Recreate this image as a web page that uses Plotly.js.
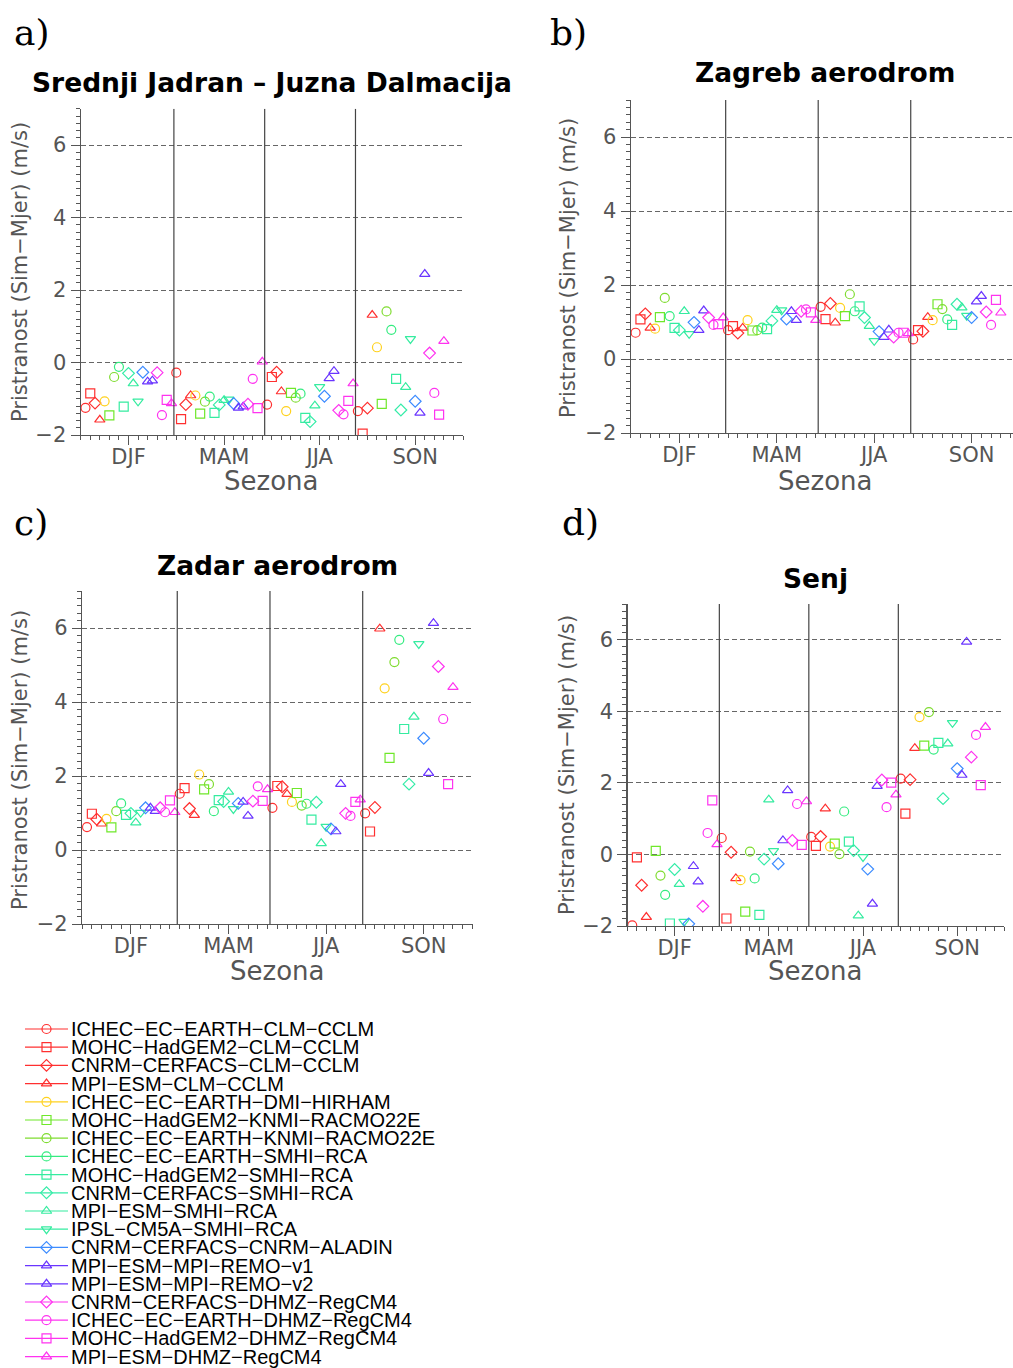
<!DOCTYPE html>
<html><head><meta charset="utf-8">
<script src="https://cdn.plot.ly/plotly-3.0.1.min.js"></script>
<style>body{margin:0;padding:0;background:#fff}</style>
</head><body><div id="chart" style="width:1013px;height:1368px"></div>
<script>
// ---------- data ----------
const models = ["ICHEC−EC−EARTH−CLM−CCLM","MOHC−HadGEM2−CLM−CCLM","CNRM−CERFACS−CLM−CCLM","MPI−ESM−CLM−CCLM",
  "ICHEC−EC−EARTH−DMI−HIRHAM","MOHC−HadGEM2−KNMI−RACMO22E","ICHEC−EC−EARTH−KNMI−RACMO22E","ICHEC−EC−EARTH−SMHI−RCA",
  "MOHC−HadGEM2−SMHI−RCA","CNRM−CERFACS−SMHI−RCA","MPI−ESM−SMHI−RCA","IPSL−CM5A−SMHI−RCA","CNRM−CERFACS−CNRM−ALADIN",
  "MPI−ESM−MPI−REMO−v1","MPI−ESM−MPI−REMO−v2","CNRM−CERFACS−DHMZ−RegCM4","ICHEC−EC−EARTH−DHMZ−RegCM4",
  "MOHC−HadGEM2−DHMZ−RegCM4","MPI−ESM−DHMZ−RegCM4"];
const seasons = ["DJF","MAM","JJA","SON"];
const panelTitles = ["Srednji Jadran – Juzna Dalmacija","Zagreb aerodrom","Zadar aerodrom","Senj"];
const panelLetters = ["a)","b)","c)","d)"];

// a) Srednji Jadran - Juzna Dalmacija
const jadranDJF = [-1.25,-0.85,-1.12,-1.58,-1.07,-1.46,-0.40,-0.12,-1.22,-0.30,-0.58,-1.07,-0.27,-0.53,-0.50,-0.28,-1.45,-1.03,-1.13];
const jadranMAM = [-0.28,-1.56,-1.16,-0.91,-0.91,-1.41,-1.08,-0.94,-1.39,-1.17,-1.04,-1.02,-1.13,-1.25,-1.22,-1.15,-0.45,-1.26,0.02];
const jadranJJA = [-1.16,-0.40,-0.27,-0.80,-1.34,-0.84,-0.97,-0.86,-1.53,-1.63,-1.19,-0.67,-0.93,-0.44,-0.24,-1.32,-1.43,-1.06,-0.58];
const jadranSON = [-1.34,-1.96,-1.26,1.31,0.42,-1.14,1.41,0.90,-0.45,-1.31,-0.68,0.65,-1.07,-1.39,2.44,0.26,-0.84,-1.44,0.59];
// b) Zagreb aerodrom
const zagrebDJF = [0.71,1.07,1.22,0.84,0.82,1.13,1.65,1.16,0.84,0.78,1.29,0.68,0.99,0.78,1.31,1.12,0.92,0.94,1.12];
const zagrebMAM = [0.78,0.89,0.70,0.84,1.05,0.77,0.78,0.85,0.81,1.03,1.32,1.32,1.08,1.29,1.05,1.29,1.34,1.26,1.05];
const zagrebJJA = [1.41,1.08,1.50,0.98,1.38,1.16,1.75,1.29,1.42,1.12,0.89,0.49,0.74,0.59,0.79,0.59,0.71,0.71,0.69];
const zagrebSON = [0.53,0.78,0.75,1.13,1.05,1.48,1.35,1.07,0.92,1.48,1.39,1.17,1.12,1.55,1.70,1.27,0.92,1.60,1.25];
// c) Zadar aerodrom
const zadarDJF = [0.62,0.98,0.83,0.71,0.84,0.61,1.05,1.26,0.95,0.99,0.74,1.01,1.14,1.14,1.05,1.14,1.02,1.34,1.02];
const zadarMAM = [1.52,1.67,1.12,0.94,2.04,1.64,1.78,1.05,1.35,1.31,1.57,1.11,1.26,1.30,0.92,1.32,1.72,1.33,1.64];
const zadarJJA = [1.14,1.73,1.71,1.51,1.30,1.54,1.20,1.25,0.82,1.29,0.18,0.63,0.57,0.50,1.78,0.99,0.92,1.30,1.36];
const zadarSON = [0.99,0.50,1.15,5.98,4.37,2.49,5.08,5.68,3.27,1.78,3.60,5.57,3.02,2.08,6.13,4.96,3.54,1.78,4.40];
// d) Senj
const senjDJF = [-1.98,-0.08,-0.86,-1.75,null,0.10,-0.59,-1.13,-1.93,-0.42,-0.83,-1.88,-1.94,-0.33,-0.76,-1.45,0.60,1.51,0.28];
const senjMAM = [0.46,-1.79,0.06,-0.67,-0.72,-1.60,0.08,-0.67,-1.69,-0.13,1.53,0.10,-0.26,0.39,1.79,0.39,1.41,0.27,1.48];
const senjJJA = [0.49,0.24,0.50,1.28,0.22,0.30,0.01,1.20,0.36,0.11,-1.71,-0.07,-0.41,-1.38,1.91,2.08,1.32,2.01,1.67];
const senjSON = [2.12,1.14,2.09,2.97,3.84,3.04,3.98,2.93,3.12,1.56,3.10,3.68,2.40,2.22,5.94,2.72,3.34,1.94,3.56];

const panelData = [
  [jadranDJF, jadranMAM, jadranJJA, jadranSON],
  [zagrebDJF, zagrebMAM, zagrebJJA, zagrebSON],
  [zadarDJF, zadarMAM, zadarJJA, zadarSON],
  [senjDJF, senjMAM, senjJJA, senjSON]
];

// ---------- styles ----------
const symbols = ["circle-open","square-open","diamond-open","triangle-up-open","circle-open","square-open","circle-open",
  "circle-open","square-open","diamond-open","triangle-up-open","triangle-down-open","diamond-open","triangle-up-open",
  "triangle-up-open","diamond-open","circle-open","square-open","triangle-up-open"];
const colors = ["#ff3030","#ff3030","#ff3030","#ff3030","#ffd21f","#6fe82a","#7fdc30","#35ec80","#35eca0","#35eca8",
  "#35eca0","#35eca0","#3d8cff","#6a35ff","#6a35ff","#ff33f0","#ff33f0","#ff33f0","#ff33f0"];

const W = 1013, H = 1368;
const px = x => x / W, py = y => 1 - y / H;
const grey = "#555555";
const tickFont = {family: "DejaVu Sans", size: 21, color: "#555"};

// panel boxes in pixels: [x0, x1, yTop(7), yBottom(-2)], x range max
const boxes = [
  {x0: 80.7, x1: 463, yt: 108.75, yb: 435, xmax: 80},
  {x0: 630.7, x1: 1013, yt: 100, yb: 433, xmax: 78.5},
  {x0: 82.1, x1: 472.5, yt: 591, yb: 924, xmax: 80},
  {x0: 627.5, x1: 1004.3, yt: 604, yb: 926, xmax: 80}
];

const traces = [];
const layout = {
  width: W, height: H, margin: {l: 0, r: 0, t: 0, b: 0},
  paper_bgcolor: "#fff", plot_bgcolor: "#fff", showlegend: false,
  shapes: [], annotations: []
};

boxes.forEach((b, p) => {
  const k = p === 0 ? "" : String(p + 1);
  const xName = "xaxis" + k, yName = "yaxis" + k;
  const alias = {}; seasons.forEach((s, i) => alias[String(10 + 20 * i)] = s);
  layout[xName] = {
    domain: [px(b.x0), px(b.x1)], range: [0, b.xmax], anchor: "y" + k,
    tickmode: "linear", tick0: 10, dtick: 20, labelalias: alias,
    ticks: "outside", ticklen: 9, tickcolor: grey, tickwidth: 1, ticklabelstandoff: -6,
    showline: true, linecolor: grey, linewidth: 1.2, showgrid: false, zeroline: false,
    minor: {tickmode: "linear", tick0: 0, dtick: 2, ticks: "outside", ticklen: 4, tickcolor: grey, showgrid: false},
    tickfont: tickFont, fixedrange: true
  };
  layout[yName] = {
    domain: [py(b.yb), py(b.yt)], range: [-2, 7], anchor: "x" + k,
    tickmode: "linear", tick0: -2, dtick: 2,
    ticks: "outside", ticklen: 9, tickcolor: grey, tickwidth: 1,
    showline: true, linecolor: grey, linewidth: 1.2,
    showgrid: true, gridcolor: "#666", griddash: "5px,3px", gridwidth: 1, zeroline: false,
    minor: {tickmode: "linear", tick0: -2, dtick: 0.2, ticks: "outside", ticklen: 4, tickcolor: grey, showgrid: false},
    tickfont: tickFont, fixedrange: true
  };
  [19.5, 38.5, 57.5].forEach(v => layout.shapes.push({
    type: "line", xref: "x" + k, yref: "y" + k, x0: v, x1: v, y0: -2, y1: 7,
    line: {color: "#444", width: 1.2}
  }));
  models.forEach((m, i) => {
    traces.push({
      type: "scatter", mode: "markers", xaxis: "x" + k, yaxis: "y" + k, name: m,
      x: seasons.map((s, si) => si * models.length + i + 1),
      y: panelData[p].map(arr => arr[i]),
      marker: {symbol: symbols[i], size: 9, color: colors[i], line: {width: 1.2, color: colors[i]}},
      cliponaxis: true, hoverinfo: "skip"
    });
  });
});

// titles and labels
const titlePos = [[271.5, 83], [825, 73], [277, 565], [815, 578]];
const letterPos = [[12, 32], [548, 32], [12, 522], [560, 522]];
const ytitlePos = [[20, 272], [568, 268], [20, 760], [567, 765]];
const xtitlePos = [[271, 481], [825, 481], [277, 971], [815, 971]];
panelTitles.forEach((t, p) => {
  layout.annotations.push({text: "<b>" + t + "</b>", xref: "paper", yref: "paper",
    x: px(titlePos[p][0]), y: py(titlePos[p][1]), xanchor: "center", yanchor: "middle", showarrow: false,
    font: {family: "DejaVu Sans", size: 26.5, color: "#000"}});
  layout.annotations.push({text: panelLetters[p], xref: "paper", yref: "paper",
    x: px(letterPos[p][0]), y: py(letterPos[p][1]), xanchor: "left", yanchor: "middle", showarrow: false,
    font: {family: "DejaVu Serif", size: 36, color: "#000"}});
  layout.annotations.push({text: "Pristranost (Sim−Mjer) (m/s)", xref: "paper", yref: "paper",
    x: px(ytitlePos[p][0]), y: py(ytitlePos[p][1]), xanchor: "center", yanchor: "middle", textangle: -90, showarrow: false,
    font: {family: "DejaVu Sans", size: 21, color: "#555"}});
  layout.annotations.push({text: "Sezona", xref: "paper", yref: "paper",
    x: px(xtitlePos[p][0]), y: py(xtitlePos[p][1]), xanchor: "center", yanchor: "middle", showarrow: false,
    font: {family: "DejaVu Sans", size: 26, color: "#555"}});
});

// legend built as its own small subplot
layout.xaxis5 = {domain: [0, 0.5], range: [0, W * 0.5], visible: false, fixedrange: true};
layout.yaxis5 = {domain: [0, py(1000)], range: [H, 1000], visible: false, fixedrange: true};
models.forEach((m, i) => {
  const yy = 1029 + i * 18.2;
  traces.push({type: "scatter", mode: "lines", xaxis: "x5", yaxis: "y5", x: [25, 68], y: [yy, yy],
    line: {color: colors[i], width: 1.2}, hoverinfo: "skip"});
  traces.push({type: "scatter", mode: "markers", xaxis: "x5", yaxis: "y5", x: [46.5], y: [yy],
    marker: {symbol: symbols[i], size: 9, color: colors[i], line: {width: 1.2, color: colors[i]}}, hoverinfo: "skip"});
  layout.annotations.push({text: m, xref: "x5", yref: "y5", x: 70, y: yy, xanchor: "left", yanchor: "middle",
    showarrow: false, borderpad: 0, font: {family: "Liberation Sans", size: 20, color: "#000"}});
});

Plotly.newPlot("chart", traces, layout, {staticPlot: true});
</script></body></html>
